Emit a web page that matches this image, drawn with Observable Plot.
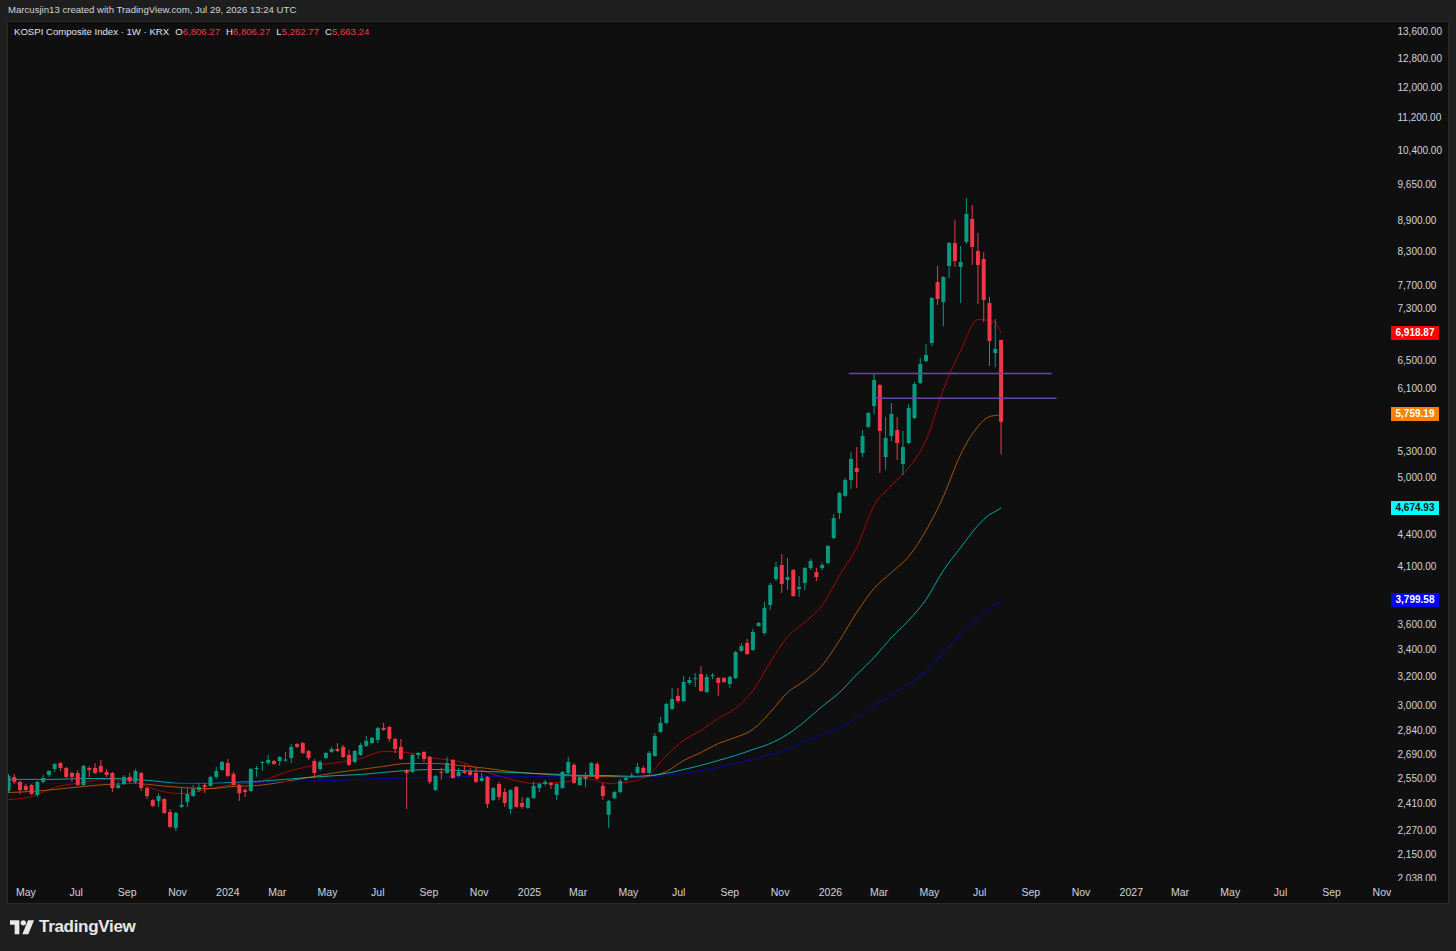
<!DOCTYPE html>
<html>
<head>
<meta charset="utf-8">
<script src="https://cdn.jsdelivr.net/npm/d3@7"></script>
<script src="https://cdn.jsdelivr.net/npm/@observablehq/plot@0.6"></script>
<style>
html, body { margin:0; padding:0; background:#1e1e1e; width:1456px; height:951px; overflow:hidden;
  font-family:"Liberation Sans","DejaVu Sans",Arial,sans-serif; }
#credit { position:absolute; left:8px; top:4px; font-size:9.6px; color:#d1d4dc; white-space:pre; }
#panel { position:absolute; left:8px; top:22px; width:1440px; height:881px; background:#0f0f0f; outline:1px solid #2a2a2a; }
#panel svg { position:absolute; left:0; top:0; display:block; }
#legend { position:absolute; left:6px; top:4px; font-size:9.6px; color:#e0e3eb; white-space:pre; z-index:2; }
#legend .v { color:#f23645; }
#legend .g { margin-left:6px; }
.tag { position:absolute; left:1383px; width:48px; height:14px; line-height:14px; font-size:10px;
  text-align:center; font-weight:bold; z-index:3; }
#cut { position:absolute; left:1387px; top:859px; width:53px; height:7px; background:#0f0f0f; z-index:2; }
#brand { position:absolute; left:10px; top:917px; display:flex; align-items:center; gap:5px;
  font-size:17px; font-weight:bold; color:#e8e8e8; letter-spacing:-0.3px; }
</style>
</head>
<body>
<div id="credit">Marcusjin13 created with TradingView.com, Jul 29, 2026 13:24 UTC</div>
<div id="panel"><div id="legend"></div><div id="cut"></div></div>
<div id="brand"><svg width="24" height="15" viewBox="0 0 36 22"><path d="M0 0h14v21H7V7H0z" fill="#e8e8e8"/><circle cx="20" cy="4" r="4" fill="#e8e8e8"/><path d="M27 0h9l-8.5 21h-9z" fill="#e8e8e8"/></svg><span>TradingView</span></div>
<script>
// ---------- DATA ----------
const symbolTitle = "KOSPI Composite Index · 1W · KRX";
const firstWeek = "2023-04-10";   // Monday of the first weekly candle

const open = [2476,2556,2528,2505,2510,2455,2528,2567,2602,2637,2608,2579,2579,2510,2608,2608,2620,2585,2579,2493,
2516,2556,2528,2579,2493,2427,2422,2433,2363,2280,2390,2416,2449,2482,2510,2505,2556,2596,2637,2573,
2510,2482,2477,2602,2637,2637,2649,2649,2652,2667,2752,2758,2709,2649,2602,2667,2703,2721,2734,2685,
2643,2685,2740,2758,2777,2853,2859,2783,2734,2596,2585,2685,2703,2673,2482,2585,2579,2655,2562,2590,
2590,2579,2533,2556,2427,2516,2471,2379,2499,2411,2385,2438,2493,2516,2522,2455,2493,2579,2626,2510,
2545,2567,2631,2505,2348,2438,2471,2539,2560,2579,2608,2579,2679,2827,2885,2977,3065,3030,3155,3183,
3219,3092,3205,3190,3190,3148,3190,3390,3451,3397,3585,3529,3758,3983,4110,3974,4064,3895,3948,4082,
4046,4082,4128,4366,4618,4798,4972,5108,5282,5600,5869,6152,5235,5487,5562,5153,5402,5713,6179,6491,
6759,7749,7410,8032,8457,8014,8476,8924,8306,8159,7393,6609,6806.27];
const high = [2573,2573,2533,2516,2516,2533,2567,2596,2637,2643,2614,2585,2596,2626,2620,2637,2655,2602,2585,2528,
2567,2579,2602,2585,2499,2433,2465,2438,2379,2363,2493,2493,2510,2522,2522,2562,2614,2649,2661,2585,
2516,2493,2608,2620,2649,2685,2655,2679,2703,2752,2758,2764,2715,2661,2655,2703,2734,2758,2746,2715,
2715,2758,2802,2796,2859,2885,2866,2790,2783,2602,2691,2703,2709,2679,2567,2608,2673,2661,2608,2626,
2608,2608,2579,2562,2499,2528,2493,2488,2505,2444,2444,2528,2522,2539,2528,2522,2590,2673,2637,2562,
2585,2643,2643,2522,2427,2477,2545,2556,2579,2637,2620,2709,2821,2924,3017,3120,3120,3205,3198,3226,
3277,3219,3226,3198,3198,3205,3390,3451,3482,3561,3617,3783,3948,4138,4212,4175,4073,4010,4091,4166,
4082,4129,4299,4607,4841,4994,5294,5353,5562,5791,6320,6166,5726,5909,5726,5550,5896,6193,6535,6743,
7493,8032,7854,8476,8904,8400,9354,9209,8649,8288,7493,7132,6806.27];
const low = [2465,2516,2460,2477,2455,2444,2522,2556,2585,2590,2550,2528,2505,2505,2556,2573,2579,2556,2471,2490,
2510,2522,2516,2477,2433,2390,2390,2353,2280,2265,2385,2390,2444,2471,2465,2499,2545,2590,2556,2505,
2422,2444,2471,2556,2590,2626,2626,2620,2643,2637,2728,2691,2655,2550,2590,2661,2697,2703,2667,2620,
2637,2679,2734,2752,2758,2834,2765,2697,2655,2379,2579,2661,2643,2516,2477,2539,2573,2545,2556,2573,
2562,2522,2528,2385,2422,2427,2390,2353,2385,2379,2379,2433,2471,2505,2488,2427,2490,2573,2516,2505,
2499,2562,2539,2427,2280,2433,2465,2533,2550,2573,2576,2576,2675,2821,2878,2970,3017,3023,3141,3127,
3092,3085,3183,3065,3155,3120,3183,3382,3360,3390,3580,3514,3716,3965,3860,3886,3826,3826,3886,4064,
3965,4064,4119,4357,4556,4787,4873,4884,5235,5587,5765,5051,5085,5426,5200,5028,5390,5700,6166,6477,
6713,7360,7019,7819,8014,7393,8438,8050,7377,7084,6419,6405,5262.77];
const close = [2562,2528,2482,2482,2460,2528,2550,2590,2631,2608,2556,2556,2510,2620,2596,2579,2585,2567,2493,2510,
2556,2533,2590,2493,2449,2395,2449,2358,2285,2358,2401,2460,2488,2499,2499,2556,2590,2643,2562,2510,
2465,2471,2602,2608,2643,2655,2631,2673,2658,2734,2734,2697,2667,2579,2643,2697,2721,2709,2673,2626,
2709,2746,2771,2790,2853,2840,2783,2721,2661,2579,2685,2697,2661,2528,2562,2579,2637,2550,2585,2579,
2567,2528,2550,2406,2493,2444,2411,2482,2390,2390,2438,2505,2516,2528,2510,2516,2585,2643,2522,2556,
2556,2637,2545,2449,2422,2471,2533,2550,2564,2614,2579,2697,2802,2885,3010,3044,3030,3162,3176,3190,
3099,3198,3212,3155,3162,3198,3382,3427,3367,3537,3609,3733,3930,4091,3939,4001,3834,3913,4082,4147,
4001,4110,4289,4566,4830,4972,5212,5062,5487,5778,6221,5550,5463,5765,5402,5353,5843,6166,6448,6580,
7476,7459,7836,8457,8123,8105,9025,8381,8050,7443,6790,6669,5663.24];

// Moving averages at these candle indices
const maIdx = [0,4,8,13,17,22,26,30,35,39,43,48,52,57,61,65,69,74,78,83,87,91,96,100,104,108,111,114,117,120,
123,126,129,132,135,138,141,144,147,150,153,156,159,162,165,168,170,171,172];
const maRed = [2432,2449,2499,2528,2545,2528,2482,2465,2493,2516,2528,2585,2620,2643,2667,2709,2703,2667,2649,2585,
2545,2522,2528,2550,2522,2533,2573,2685,2777,2840,2917,2984,3106,3307,3505,3618,3758,4019,4279,4702,
4917,5119,5438,6097,6654,7132,7116,7084,6918.87];
const maOrange = [2471,2477,2488,2505,2516,2522,2510,2499,2493,2505,2510,2533,2556,2585,2602,2620,2637,2637,2626,2608,
2590,2579,2567,2562,2562,2556,2562,2590,2655,2703,2758,2796,2846,2957,3092,3176,3285,3474,3700,3904,
4046,4194,4445,4797,5271,5612,5739,5752,5759.19];
const maTeal = [2545,2545,2545,2550,2550,2545,2533,2522,2522,2528,2533,2545,2556,2567,2573,2585,2596,2602,2596,2590,
2585,2579,2573,2567,2567,2562,2567,2579,2602,2626,2655,2685,2721,2758,2815,2898,2997,3092,3219,3344,
3497,3634,3808,4064,4279,4496,4607,4639,4674.93];
const maBlue = [2522,2522,2522,2522,2522,2522,2522,2522,2522,2522,2528,2533,2536,2539,2545,2550,2553,2556,2559,2562,
2562,2562,2559,2556,2556,2556,2559,2567,2579,2596,2614,2637,2661,2691,2721,2771,2815,2853,2924,3003,
3078,3148,3241,3375,3521,3642,3733,3758,3799.58];
const maColors = ["#ff0000","#ff8000","#00ffff","#0000ff"];
const maTagText = ["#ffffff","#ffffff","#131722","#ffffff"];

// Horizontal drawn levels
const levelValues = [6320, 5980];
const levelStart = ["2026-01-24","2026-02-24"];
const levelEnd = ["2026-09-27","2026-10-03"];

// Axis ticks
const yTicks = [13600,12800,12000,11200,10400,9650,8900,8300,7700,7300,6500,6100,5300,5000,4400,4100,3600,3400,3200,3000,2840,2690,2550,2410,2270,2150,2038];
const xTickLabels = ["May","Jul","Sep","Nov","2024","Mar","May","Jul","Sep","Nov","2025","Mar","May","Jul","Sep","Nov","2026","Mar","May","Jul","Sep","Nov","2027","Mar","May","Jul","Sep","Nov"];
const xDomain = ["2023-04-10","2027-11-09"];

// ---------- BUILD ----------
const G = "#089981", R = "#f23645";
const start = new Date(firstWeek + "T00:00:00Z");
const weekDate = i => new Date(start.getTime() + i * 7 * 864e5);
const candles = open.map((o, i) => ({date: weekDate(i), o, h: high[i], l: low[i], c: close[i]}));
const maSeries = [maRed, maOrange, maTeal, maBlue];
const maData = maSeries.map(arr => arr.map((v, k) => ({date: weekDate(maIdx[k]), v})));
const levels = levelValues.map((v, i) => ({v, a: new Date(levelStart[i]), b: new Date(levelEnd[i])}));
const xTicks = d3.utcMonth.every(2).range(new Date("2023-05-01"), new Date("2027-11-02"));
const xLabelMap = new Map(xTicks.map((d, i) => [+d, xTickLabels[i]]));
const fmt2 = d3.format(",.2f");
const col = d => d.c >= d.o ? G : R;

const chart = Plot.plot({
  width: 1440, height: 881,
  marginLeft: 0, marginRight: 60, marginTop: 0, marginBottom: 23,
  style: {background: "transparent", color: "#d1d4dc", fontFamily: "'Liberation Sans','DejaVu Sans',Arial,sans-serif", overflow: "visible"},
  x: {type: "utc", domain: xDomain.map(s => new Date(s)), range: [0, 1380], label: null},
  y: {type: "log", domain: [2038, 13600], range: [856, 9], label: null},
  color: {type: "identity"},
  marks: [
    Plot.axisY(yTicks, {anchor: "right", tickSize: 0, tickPadding: 9, tickFormat: fmt2, fontSize: 10, fill: "#d1d4dc", label: null}),
    Plot.axisX(xTicks, {anchor: "bottom", tickSize: 0, tickPadding: 8, tickFormat: d => xLabelMap.get(+d), fontSize: 10.5, fill: "#d1d4dc", label: null}),
    ...maData.map((d, i) => Plot.line(d, {x: "date", y: "v", stroke: maColors[i], strokeOpacity: 0.62, strokeWidth: 1, curve: "monotone-x", clip: true})),
    Plot.ruleX(candles, {x: "date", y1: "l", y2: "h", stroke: col, strokeWidth: 1, clip: true}),
    Plot.ruleX(candles, {x: "date", y1: "o", y2: "c", stroke: col, strokeWidth: 4, clip: true}),
    Plot.ruleY(levels, {y: "v", x1: "a", x2: "b", stroke: "#6a45b0", strokeWidth: 1.5, clip: true})
  ]
});
const panel = document.getElementById("panel");
panel.insertBefore(chart, panel.firstChild);

// legend
const last = candles.length - 1;
document.getElementById("legend").innerHTML =
  symbolTitle + "<span class='g'>O</span><span class='v'>" + fmt2(open[last]) + "</span><span class='g'>H</span><span class='v'>" + fmt2(high[last]) +
  "</span><span class='g'>L</span><span class='v'>" + fmt2(low[last]) + "</span><span class='g'>C</span><span class='v'>" + fmt2(close[last]) + "</span>";

// last-value tags on the price scale
const ys = chart.scale("y");
maSeries.forEach((arr, i) => {
  const v = arr[arr.length - 1];
  const t = document.createElement("div");
  t.className = "tag";
  t.style.top = (ys.apply(v) - 7) + "px";
  t.style.background = maColors[i];
  t.style.color = maTagText[i];
  t.textContent = fmt2(v);
  panel.appendChild(t);
});
</script>
</body>
</html>
